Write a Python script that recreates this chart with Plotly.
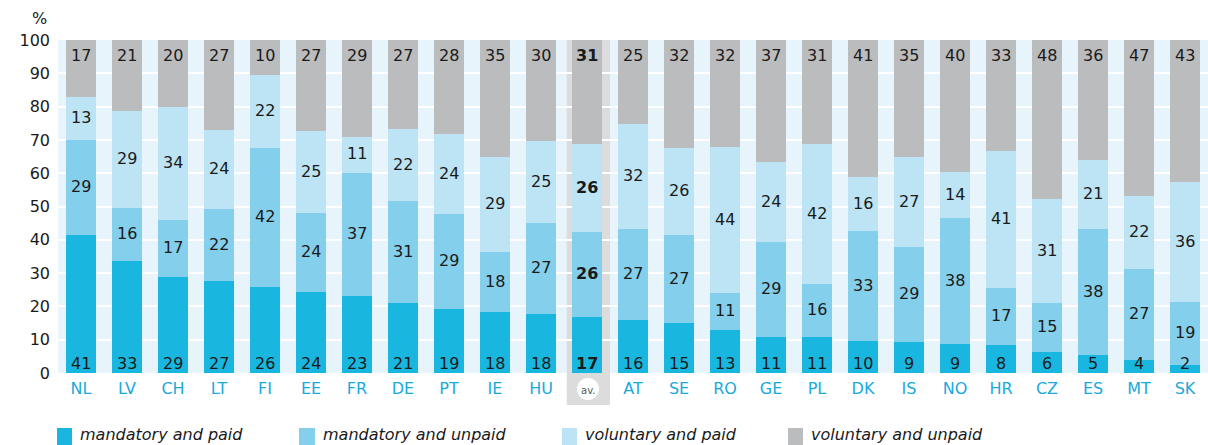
import numpy as np
import plotly.graph_objects as go

countries = ["NL", "LV", "CH", "LT", "FI", "EE", "FR", "DE", "PT", "IE", "HU", "av.",
             "AT", "SE", "RO", "GE", "PL", "DK", "IS", "NO", "HR", "CZ", "ES", "MT", "SK"]

# bar heights (%)
mand_paid = [41.4, 33.6, 28.8, 27.6, 25.8, 24.2, 23.0, 20.9, 19.1, 18.2, 17.6, 16.7,
             15.8, 14.9, 12.8, 10.7, 10.7, 9.5, 9.2, 8.6, 8.3, 6.2, 5.3, 3.8, 2.3]
mand_unpaid = [28.5, 15.9, 17.1, 21.6, 41.8, 23.8, 37.0, 30.7, 28.6, 18.1, 27.4, 25.6,
               27.4, 26.5, 11.1, 28.6, 16.0, 33.1, 28.6, 37.9, 17.2, 14.7, 37.9, 27.4, 18.9]
vol_paid = [13.0, 29.2, 34.0, 23.8, 21.9, 24.6, 11.0, 21.6, 24.0, 28.5, 24.6, 26.4,
            31.5, 26.1, 43.9, 24.0, 42.0, 16.2, 27.0, 13.8, 41.1, 31.3, 20.7, 21.9, 36.1]
vol_unpaid = [17.1, 21.3, 20.1, 27.0, 10.5, 27.4, 29.0, 26.8, 28.3, 35.2, 30.4, 31.3,
              25.3, 32.5, 32.2, 36.7, 31.3, 41.2, 35.2, 39.7, 33.4, 47.8, 36.1, 46.9, 42.7]

# printed labels
lab_mand_paid = [41, 33, 29, 27, 26, 24, 23, 21, 19, 18, 18, 17, 16, 15, 13, 11, 11, 10, 9, 9, 8, 6, 5, 4, 2]
lab_mand_unpaid = [29, 16, 17, 22, 42, 24, 37, 31, 29, 18, 27, 26, 27, 27, 11, 29, 16, 33, 29, 38, 17, 15, 38, 27, 19]
lab_vol_paid = [13, 29, 34, 24, 22, 25, 11, 22, 24, 29, 25, 26, 32, 26, 44, 24, 42, 16, 27, 14, 41, 31, 21, 22, 36]
lab_vol_unpaid = [17, 21, 20, 27, 10, 27, 29, 27, 28, 35, 30, 31, 25, 32, 32, 37, 31, 41, 35, 40, 33, 48, 36, 47, 43]

series_names = ["mandatory and paid", "mandatory and unpaid", "voluntary and paid", "voluntary and unpaid"]
colors = ["#19b7e0", "#84cfeb", "#bce4f4", "#bbbcbe"]

FONT = "DejaVu Sans"
TXT = "#1a1a1a"
W, H = 1208, 445
ML, MR, MT, MB = 58, 0, 40, 72
PW, PH = W - ML - MR, H - MT - MB


def px(x):
    return (x - ML) / PW


def py(y):
    return (H - MB - y) / PH


vals = [np.array(v) for v in (mand_paid, mand_unpaid, vol_paid, vol_unpaid)]
labs = [lab_mand_paid, lab_mand_unpaid, lab_vol_paid, lab_vol_unpaid]

fig = go.Figure()

# highlighted average column
fig.add_shape(type="rect", xref="x", yref="paper", x0=10.56, x1=11.5, y0=py(405), y1=1.0,
              fillcolor="#dcdcdc", line_width=0, layer="below")
# "av." badge
fig.add_shape(type="circle", xref="x", yref="paper", xsizemode="pixel", ysizemode="pixel",
              xanchor="av.", yanchor=py(389), x0=-10, x1=12, y0=-11, y1=11,
              fillcolor="white", line_width=0, layer="below")

for name, v, c in zip(series_names, vals, colors):
    fig.add_trace(go.Bar(x=countries, y=v, name=name, marker=dict(color=c, line_width=0),
                         hoverinfo="skip", showlegend=False))


def fmt(label, cc):
    return f"<b>{label}</b>" if cc == "av." else str(label)


cum = np.cumsum(np.vstack(vals), axis=0)
base = np.vstack([np.zeros(len(countries)), cum[:-1]])
lab_font = dict(family=FONT, size=16, color=TXT)

for j, cc in enumerate(countries):
    # bottom label
    fig.add_annotation(x=cc, y=0, yanchor="bottom", yshift=-2, text=fmt(labs[0][j], cc),
                       showarrow=False, font=lab_font)
    # middle labels
    for i in (1, 2):
        fig.add_annotation(x=cc, y=base[i][j] + vals[i][j] / 2, yanchor="middle", yshift=1,
                           text=fmt(labs[i][j], cc), showarrow=False, font=lab_font)
    # top label
    fig.add_annotation(x=cc, y=cum[3][j], yanchor="top", yshift=-4, text=fmt(labs[3][j], cc),
                       showarrow=False, font=lab_font)

fig.add_annotation(x="av.", xref="x", xshift=1, y=py(389), yref="paper", yanchor="middle",
                   yshift=-1, text="av.", showarrow=False,
                   font=dict(family=FONT, size=10, color="#555"))

fig.add_annotation(x=px(49), xref="paper", y=1.0, yref="paper", yshift=22, text="%",
                   showarrow=False, xanchor="right", yanchor="middle",
                   font=dict(family=FONT, size=16, color=TXT))

# legend (drawn manually to match the reference layout)
leg_sq = [(57, 72), (299, 315), (562, 577), (788, 803)]
for (x0, x1), name, c in zip(leg_sq, series_names, colors):
    fig.add_shape(type="rect", xref="paper", yref="paper", x0=px(x0), x1=px(x1),
                  y0=py(445), y1=py(428), fillcolor=c, line_width=0)
    fig.add_annotation(x=px(x1 + 6), xref="paper", y=py(434), yref="paper", text=name,
                       xanchor="left", yanchor="middle", showarrow=False,
                       font=dict(family=FONT, size=16, color=TXT, style="italic"))

ticktext = ["" if c == "av." else c for c in countries]

fig.update_layout(
    width=W, height=H,
    margin=dict(l=ML, r=MR, t=MT, b=MB),
    barmode="stack", bargap=0.35,
    plot_bgcolor="#e8f4fb", paper_bgcolor="white",
    font=dict(family=FONT, size=16, color=TXT),
    xaxis=dict(range=[-0.5, len(countries) - 0.5], tickmode="array", tickvals=countries,
               ticktext=ticktext, tickfont=dict(family=FONT, size=16, color="#1aa9dd"),
               showgrid=False, zeroline=False, showline=False, ticks="", automargin=False,
               ticklabelstandoff=4),
    yaxis=dict(range=[0, 100], dtick=10, showgrid=True, gridcolor="white", gridwidth=2,
               zeroline=False, showline=False, ticks="", automargin=False,
               ticklabelstandoff=7,
               tickfont=dict(family=FONT, size=16, color=TXT)),
    showlegend=False,
)

fig.write_html("out.html", config={"displayModeBar": False},
               post_script="document.body.style.margin='0';")
